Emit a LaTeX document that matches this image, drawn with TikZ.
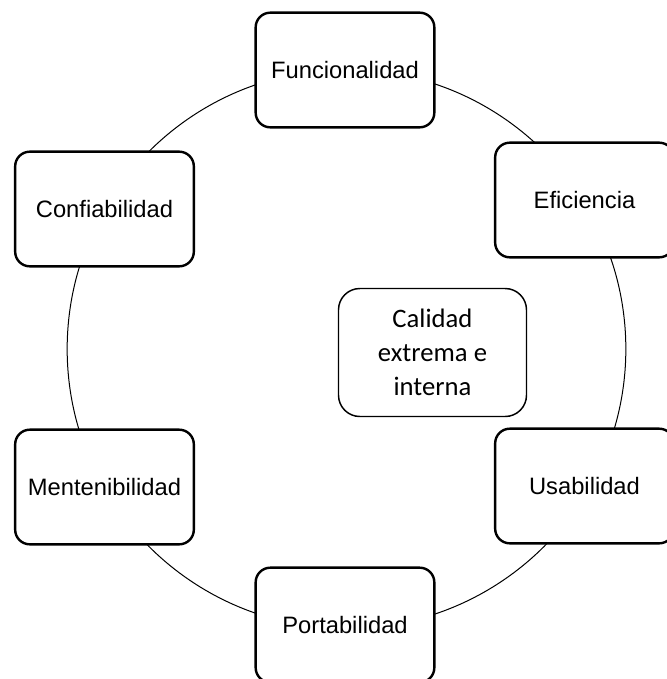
\documentclass[tikz,border=0pt]{standalone}
\usepackage{fontspec}
\setmainfont{Liberation Sans}
\newfontfamily\calibrifont{Carlito}
\usepackage{tikz}

\begin{document}
\begin{tikzpicture}[x=0.75pt, y=-0.75pt,
		node_style/.style={rectangle,rounded corners=11pt,draw=black,line width=1.8pt,fill=white,
			minimum width=134pt,minimum height=86pt,inner sep=0pt,font=\fontsize{17.8}{21}\selectfont},
		core_style/.style={rectangle,rounded corners=16pt,draw=black,line width=1.1pt,fill=white,
			minimum width=141pt,minimum height=96pt,align=center,inner sep=0pt,
			font=\calibrifont\fontsize{20}{25.5}\selectfont},
		ring_style/.style={circle,draw=black,line width=0.75pt,minimum size=419pt,inner sep=0pt}]
		
		\useasboundingbox (0,0) rectangle (667,679);
		\clip (0,0) rectangle (667,679);
		
		\node[ring_style] (ring) at (346.5,349) {};
		
		\node[node_style] (fun) at (345,70)    {Funcionalidad};
		\node[node_style] (efi) at (584.5,200) {Eficiencia};
		\node[node_style] (con) at (104.5,209) {Confiabilidad};
		\node[node_style] (usa) at (584.5,486) {Usabilidad};
		\node[node_style] (men) at (104.5,487) {Mentenibilidad};
		\node[node_style] (por) at (345,625)   {Portabilidad};
		
		\node[core_style] (cal) at (432.5,352.5) {Calidad\\extrema e\\interna};
		
		\end{tikzpicture}
\end{document}
